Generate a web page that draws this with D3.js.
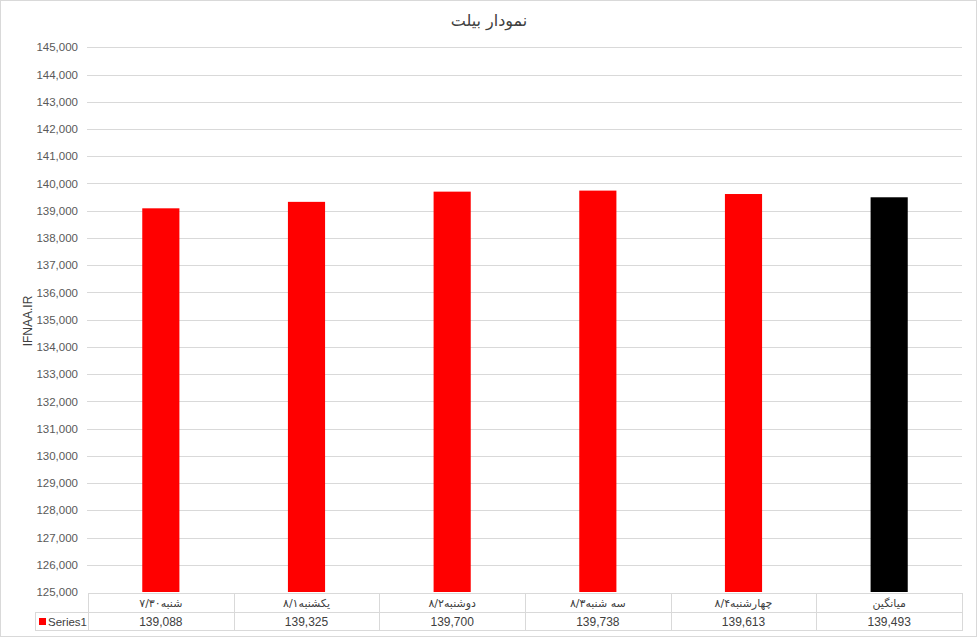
<!DOCTYPE html>
<html>
<head>
<meta charset="utf-8">
<script src="https://cdn.jsdelivr.net/npm/d3@7"></script>
<style>
  html, body { margin: 0; padding: 0; background: #fff; }
  svg { display: block; }
</style>
</head>
<body>
<svg id="chart" width="977" height="638"></svg>
<script>
// ---------- data ----------
const title = "نمودار بیلت";
const yAxisTitle = "IFNAA.IR";
const seriesName = "Series1";
const categories = ["شنبه۷/۳۰", "یکشنبه۸/۱", "دوشنبه۸/۲", "سه شنبه۸/۳", "چهارشنبه۸/۴", "میانگین"];
const values = [139088, 139325, 139700, 139738, 139613, 139493];
const barColors = ["#ff0000", "#ff0000", "#ff0000", "#ff0000", "#ff0000", "#000000"];
const yTicks = d3.range(125000, 145001, 1000);

// ---------- layout ----------
const W = 977, H = 638;
const plot = { left: 88, right: 962, top: 47.3, bottom: 592 };
const table = { top: 593, mid: 612, bottom: 630, legendLeft: 35 };
const fontNum = "'Liberation Sans', 'DejaVu Sans', sans-serif";
const fontFa = "'DejaVu Sans', 'Noto Sans', sans-serif";

const svg = d3.select("#chart");

// outer border
svg.append("rect").attr("x", 0.5).attr("y", 0.5).attr("width", W - 1).attr("height", H - 2)
  .attr("fill", "#fff").attr("stroke", "#d9d9d9");

const x = d3.scaleBand().domain(d3.range(values.length)).range([plot.left, plot.right]).padding(0);
const y = d3.scaleLinear().domain([125000, 145000]).range([plot.bottom, plot.top]);

// gridlines
svg.append("g").selectAll("line").data(yTicks.slice(1)).join("line")
  .attr("x1", plot.left - 1).attr("x2", plot.right)
  .attr("y1", d => Math.round(y(d)) + 0.5).attr("y2", d => Math.round(y(d)) + 0.5)
  .attr("stroke", "#d9d9d9").attr("stroke-width", 1);

// y axis labels
const yAxis = d3.axisLeft(y).tickValues(yTicks).tickFormat(d3.format(",")).tickSize(0).tickPadding(0);
const gy = svg.append("g").attr("transform", `translate(${plot.left - 10},0)`).call(yAxis);
gy.select(".domain").remove();
gy.selectAll("text").attr("fill", "#595959").style("font-family", fontNum).style("font-size", "11.5px");

// bars
const barW = x.bandwidth() * 0.255;
svg.append("g").selectAll("rect").data(values).join("rect")
  .attr("x", (d, i) => x(i) + x.bandwidth() / 2 - barW / 2)
  .attr("width", barW)
  .attr("y", d => y(d))
  .attr("height", d => y(125000) - y(d))
  .attr("fill", (d, i) => barColors[i]);

// title
svg.append("text").attr("x", 489).attr("y", 26).attr("text-anchor", "middle")
  .attr("fill", "#404040").style("font-family", fontFa).style("font-size", "16px")
  .text(title);

// y axis title
svg.append("text").attr("transform", "translate(32,321) rotate(-90)").attr("text-anchor", "middle")
  .attr("fill", "#404040").style("font-family", fontNum).style("font-size", "12px")
  .text(yAxisTitle);

// ---------- data table ----------
const tg = svg.append("g");
const lineC = "#d9d9d9";
function hline(x1, x2, yy) {
  tg.append("line").attr("x1", x1).attr("x2", x2).attr("y1", yy + 0.5).attr("y2", yy + 0.5).attr("stroke", lineC);
}
function vline(xx, y1, y2) {
  tg.append("line").attr("x1", xx + 0.5).attr("x2", xx + 0.5).attr("y1", y1).attr("y2", y2).attr("stroke", lineC);
}
hline(plot.left, plot.right, table.top);
hline(table.legendLeft, plot.right, table.mid);
hline(table.legendLeft, plot.right, table.bottom);
vline(table.legendLeft, table.mid, table.bottom + 1);
d3.range(values.length + 1).forEach(i => {
  const xx = Math.round(i < values.length ? x(i) : plot.right);
  vline(xx, table.top, table.bottom + 1);
});

tg.selectAll("text.cat").data(categories).join("text").attr("class", "cat")
  .attr("x", (d, i) => x(i) + x.bandwidth() / 2).attr("y", table.top + 14)
  .attr("text-anchor", "middle").attr("fill", "#404040")
  .style("font-family", fontFa).style("font-size", "11px")
  .text(d => d);

tg.selectAll("text.val").data(values).join("text").attr("class", "val")
  .attr("x", (d, i) => x(i) + x.bandwidth() / 2).attr("y", table.mid + 13.5)
  .attr("text-anchor", "middle").attr("fill", "#404040")
  .style("font-family", fontNum).style("font-size", "12px")
  .text(d => d3.format(",")(d));

// legend key
tg.append("rect").attr("x", 39).attr("y", 618).attr("width", 7).attr("height", 7).attr("fill", barColors[0]);
tg.append("text").attr("x", 48).attr("y", table.mid + 13.5).attr("fill", "#404040")
  .style("font-family", fontNum).style("font-size", "11.5px").text(seriesName);
</script>
</body>
</html>
